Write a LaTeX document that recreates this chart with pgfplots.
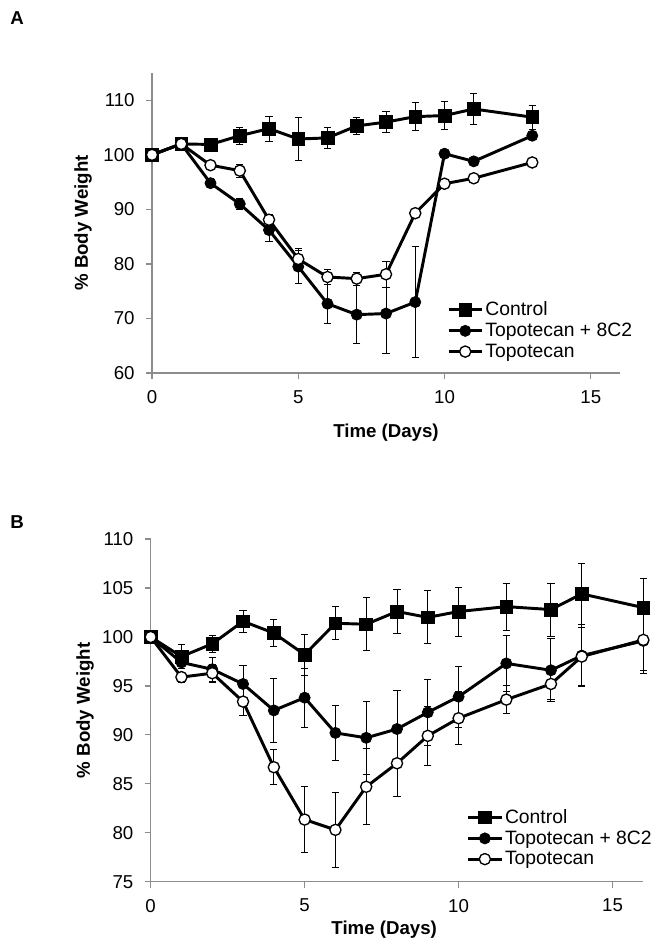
\documentclass[border=0pt]{standalone}
\usepackage{fontspec}
\setmainfont{Liberation Sans}
\usepackage{pgfplots}
\usepackage{pgfplotstable}
\pgfplotsset{compat=1.18}

% panel A
\pgfplotstableread{
x y e
0 100 0
1 102 0.3
2 101.9 0.8
3 103.5 1.6
4 104.8 2.3
5 102.9 4.0
6 103.1 2.0
7 105.3 1.6
8 106.0 1.9
9 107.0 2.5
10 107.2 2.5
11 108.4 2.8
13 106.9 2.2
}\ctrlA
\pgfplotstableread{
x y e
0 100 0
1 102 0.3
2 94.8 0.8
3 91.0 1.0
4 86.2 2.1
5 79.5 3.0
6 72.7 3.6
7 70.7 5.3
8 70.9 7.3
9 73.0 10.2
10 100.2 0.5
11 98.8 0.5
13 103.5 0.5
}\combA
\pgfplotstableread{
x y e
0 100 0
1 102 0.3
2 98.1 0.8
3 97.1 1.2
4 88.1 1.0
5 80.9 2.0
6 77.6 1.3
7 77.3 1.2
8 78.1 2.4
9 89.3 0.6
10 94.7 0.5
11 95.7 0.5
13 98.6 0.5
}\topoA

% panel B
\pgfplotstableread{
x y e
0 100 0
1 98.0 1.2
2 99.3 0.9
3 101.6 1.1
4 100.4 1.4
5 98.2 2.1
6 101.4 1.7
7 101.3 2.7
8 102.6 2.2
9 102.0 2.7
10 102.6 2.5
11.55 103.1 2.4
13 102.8 2.7
14 104.4 3.1
16 103.0 3.0
}\ctrlB
\pgfplotstableread{
x y e
0 100 0
1 97.4 0.6
2 96.7 1.2
3 95.2 1.9
4 92.5 3.3
5 93.8 3.0
6 90.2 2.8
7 89.7 3.7
8 90.6 3.9
9 92.3 3.4
10 93.9 3.1
11.55 97.3 2.9
13 96.6 3.2
14 98.1 3.2
16 99.6 3.0
}\combB
\pgfplotstableread{
x y e
0 100 0
1 95.9 0.5
2 96.3 0.9
3 93.4 1.4
4 86.7 1.8
5 81.35 3.4
6 80.3 3.8
7 84.7 3.9
8 87.1 3.4
9 89.9 3.0
10 91.7 2.7
11.55 93.6 1.4
13 95.2 1.6
14 98.0 3.0
16 99.7 3.4
}\topoB

\pgfplotsset{
  bw/.style={
    scale only axis,
    axis lines=left,
    axis line style={-, draw=gray!90, line width=0.9pt},
    tick style={draw=gray!90, line width=0.9pt},
    tick align=outside,
    major tick length=4.5pt,
    clip=false,
    xmin=0, xmax=16,
    xtick={0,5,10,15},
    tick label style={font=\fontsize{14}{15}\selectfont},
    xticklabel style={yshift=-5pt},
    yticklabel style={xshift=-5pt},
    /pgf/number format/assume math mode=true,
    label style={font=\bfseries\fontsize{14}{15}\selectfont},
    xlabel={Time (Days)},
    ylabel={\% Body Weight},
    legend cell align=left,
    legend style={draw=none, fill=none, inner sep=0pt,
      font=\fontsize{14.5}{15}\selectfont, row sep=1pt,
      nodes={inner sep=1.5pt}},
    legend image code/.code={%
      \draw[mark repeat=2, mark phase=2]
        plot coordinates {(0pt,0pt) (12.5pt,0pt) (25pt,0pt)};},
  },
  ser/.style={black, line width=2.2pt,
    error bars/y dir=both, error bars/y explicit,
    error bars/error bar style={line width=0.75pt, black},
    error bars/error mark options={rotate=90, mark size=2.7pt, line width=0.75pt, black}},
  sq/.style={ser, mark=square*, mark size=4.8pt,
    mark options={fill=black, line width=0.5pt}},
  fc/.style={ser, mark=*, mark size=4.2pt,
    mark options={fill=black, line width=0.5pt}},
  oc/.style={ser, mark=*, mark size=4.2pt,
    mark options={fill=white, draw=black, line width=1pt}},
}

\begin{document}
\begin{tikzpicture}
\useasboundingbox (0pt,0pt) rectangle (497.25pt,-714pt);
\node[font=\bfseries\fontsize{14}{15}\selectfont] at (12.75pt,-13.5pt) {A};
\node[font=\bfseries\fontsize{14}{15}\selectfont] at (12.75pt,-391.5pt) {B};

\begin{axis}[bw,
  at={(114pt,-279.75pt)}, anchor=south west,
  width=351pt, height=225pt,
  ymin=60, ymax=115,
  ytick={60,70,80,90,100,110},
  xlabel style={at={(axis description cs:0.5,-0.2)}, anchor=center},
  ylabel style={at={(axis description cs:-0.147,0.5)}, anchor=center},
  legend style={at={(axis description cs:0.63,0.245)}, anchor=north west},
]
\addplot[sq] table[x=x, y=y, y error=e] {\ctrlA};
\addplot[fc] table[x=x, y=y, y error=e] {\combA};
\addplot[oc] table[x=x, y=y, y error=e] {\topoA};
\legend{Control, Topotecan + 8C2, Topotecan}
\end{axis}

\begin{axis}[bw,
  at={(113pt,-661.3pt)}, anchor=south west,
  width=369.5pt, height=257pt,
  ymin=75, ymax=110,
  ytick={75,80,85,90,95,100,105,110},
  xlabel style={at={(axis description cs:0.474,-0.141)}, anchor=center},
  ylabel style={at={(axis description cs:-0.133,0.5)}, anchor=center},
  legend style={at={(axis description cs:0.641,0.218)}, anchor=north west},
]
\addplot[sq] table[x=x, y=y, y error=e] {\ctrlB};
\addplot[fc] table[x=x, y=y, y error=e] {\combB};
\addplot[oc] table[x=x, y=y, y error=e] {\topoB};
\legend{Control, Topotecan + 8C2, Topotecan}
\end{axis}
\end{tikzpicture}
\end{document}
